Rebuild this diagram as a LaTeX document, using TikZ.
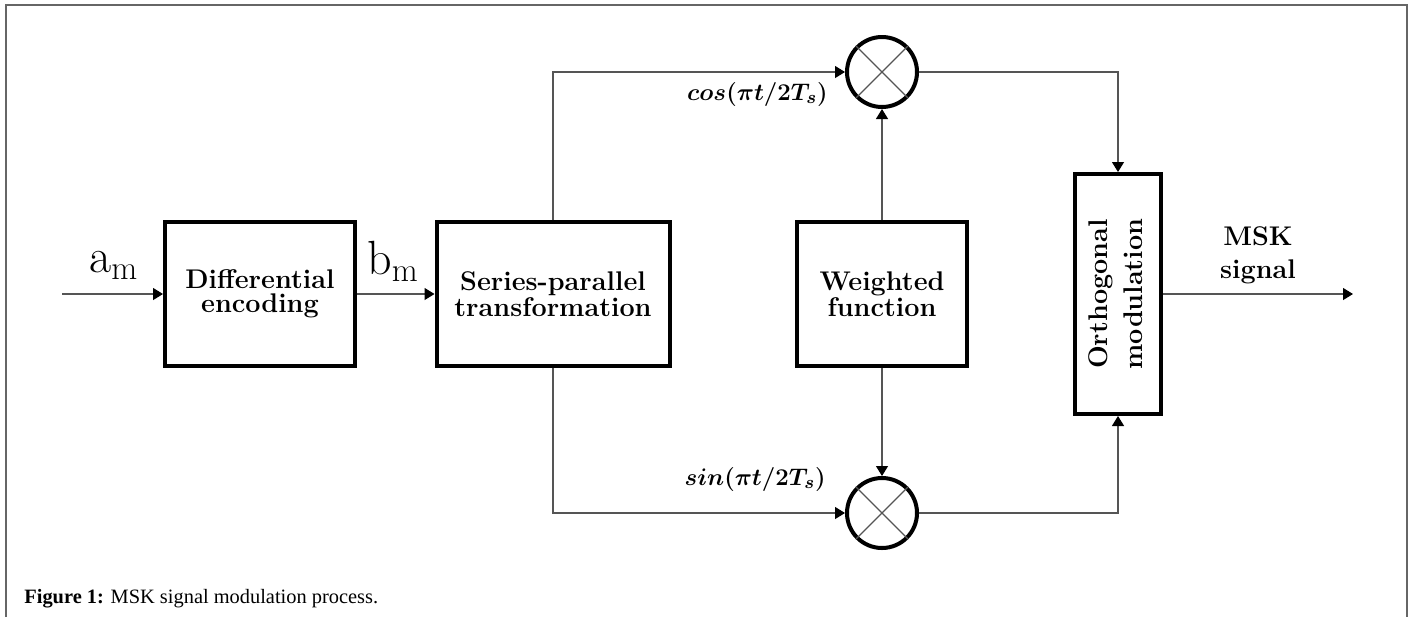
\documentclass[tikz,border=0pt]{standalone}
\usepackage{amsmath}
\usepackage{fontspec}
\usepackage{graphicx}
\usetikzlibrary{arrows.meta,calc}
\newfontfamily\capfont{Liberation Serif}
\definecolor{lnc}{HTML}{555555}
\definecolor{frc}{HTML}{666666}
\begin{document}
\begin{tikzpicture}[x=0.5pt,y=-0.5pt,
  blk/.style={draw,line width=2pt,minimum height=72pt,align=center,inner sep=0pt,
    font=\fontsize{13.5}{12}\selectfont\bfseries},
  mult/.style={draw,circle,line width=2pt,minimum size=35pt,inner sep=0pt},
  crs/.style={draw=lnc,line width=0.6pt},
  conn/.style={draw=lnc,line width=0.6pt,-{Triangle[length=5pt,width=6pt,color=black]}},
  frame/.style={draw=frc,line width=0.7pt},
  sig/.style={font=\fontsize{24}{26}\selectfont,inner sep=0pt},
  trig/.style={font=\fontsize{12.8}{14}\selectfont\boldmath,inner sep=0pt},
  outlbl/.style={align=center,inner sep=0pt,font=\fontsize{13.5}{16.5}\selectfont\bfseries},
  captxt/.style={inner sep=0pt,font=\capfont\fontsize{10.2}{12}\selectfont}]
\useasboundingbox (0,0) rectangle (1413,617);
\draw[frame] (6,617) -- (6,5) -- (1407,5) -- (1407,617);

\node[blk,minimum width=95pt] (diff) at (260,294) {Differential\\encoding};
\node[blk,minimum width=116.5pt] (sp) at (553,294) {Series-parallel\\transformation};
\node[blk,minimum width=85pt] (wf) at (882,294) {Weighted\\function};
\node[blk,minimum width=43pt,minimum height=120pt,font=\fontsize{13.5}{17.5}\selectfont\bfseries] (om) at (1118,294)
  {\rotatebox{90}{\begin{tabular}{@{}c@{}}Orthogonal\\modulation\end{tabular}}};
\node[mult] (m1) at (882,72) {};
\node[mult] (m2) at (882,513) {};
\draw[crs] (m1.45) -- (m1.225) (m1.135) -- (m1.315);
\draw[crs] (m2.45) -- (m2.225) (m2.135) -- (m2.315);

\coordinate (in) at (62,294);
\coordinate (out) at (1353,294);

\draw[conn] (in) -- (diff.west);
\draw[conn] (diff.east) -- (sp.west);
\draw[conn] (sp.north) |- (m1.west);
\draw[conn] (sp.south) |- (m2.west);
\draw[conn] (wf.north) -- (m1.south);
\draw[conn] (wf.south) -- (m2.north);
\draw[conn] (m1.east) -| (om.north);
\draw[conn] (m2.east) -| (om.south);
\draw[conn] (om.east) -- (out);

\node[sig,anchor=base west] (am) at (89,272) {$\mathrm{a}_{\mathrm{m}}$};
\node[sig,anchor=base west] (bm) at (367,274) {$\mathrm{b}_{\mathrm{m}}$};
\node[trig,anchor=base east] (cosl) at (828,100) {$cos(\pi t/2T_{s})$};
\node[trig,anchor=base east] (sinl) at (826,485) {$sin(\pi t/2T_{s})$};
\node[outlbl] (msk) at (1258,255) {MSK\\signal};

\node[captxt,anchor=base west] (caption) at (24,603) {\textbf{Figure 1:} MSK signal modulation process.};
\end{tikzpicture}
\end{document}
